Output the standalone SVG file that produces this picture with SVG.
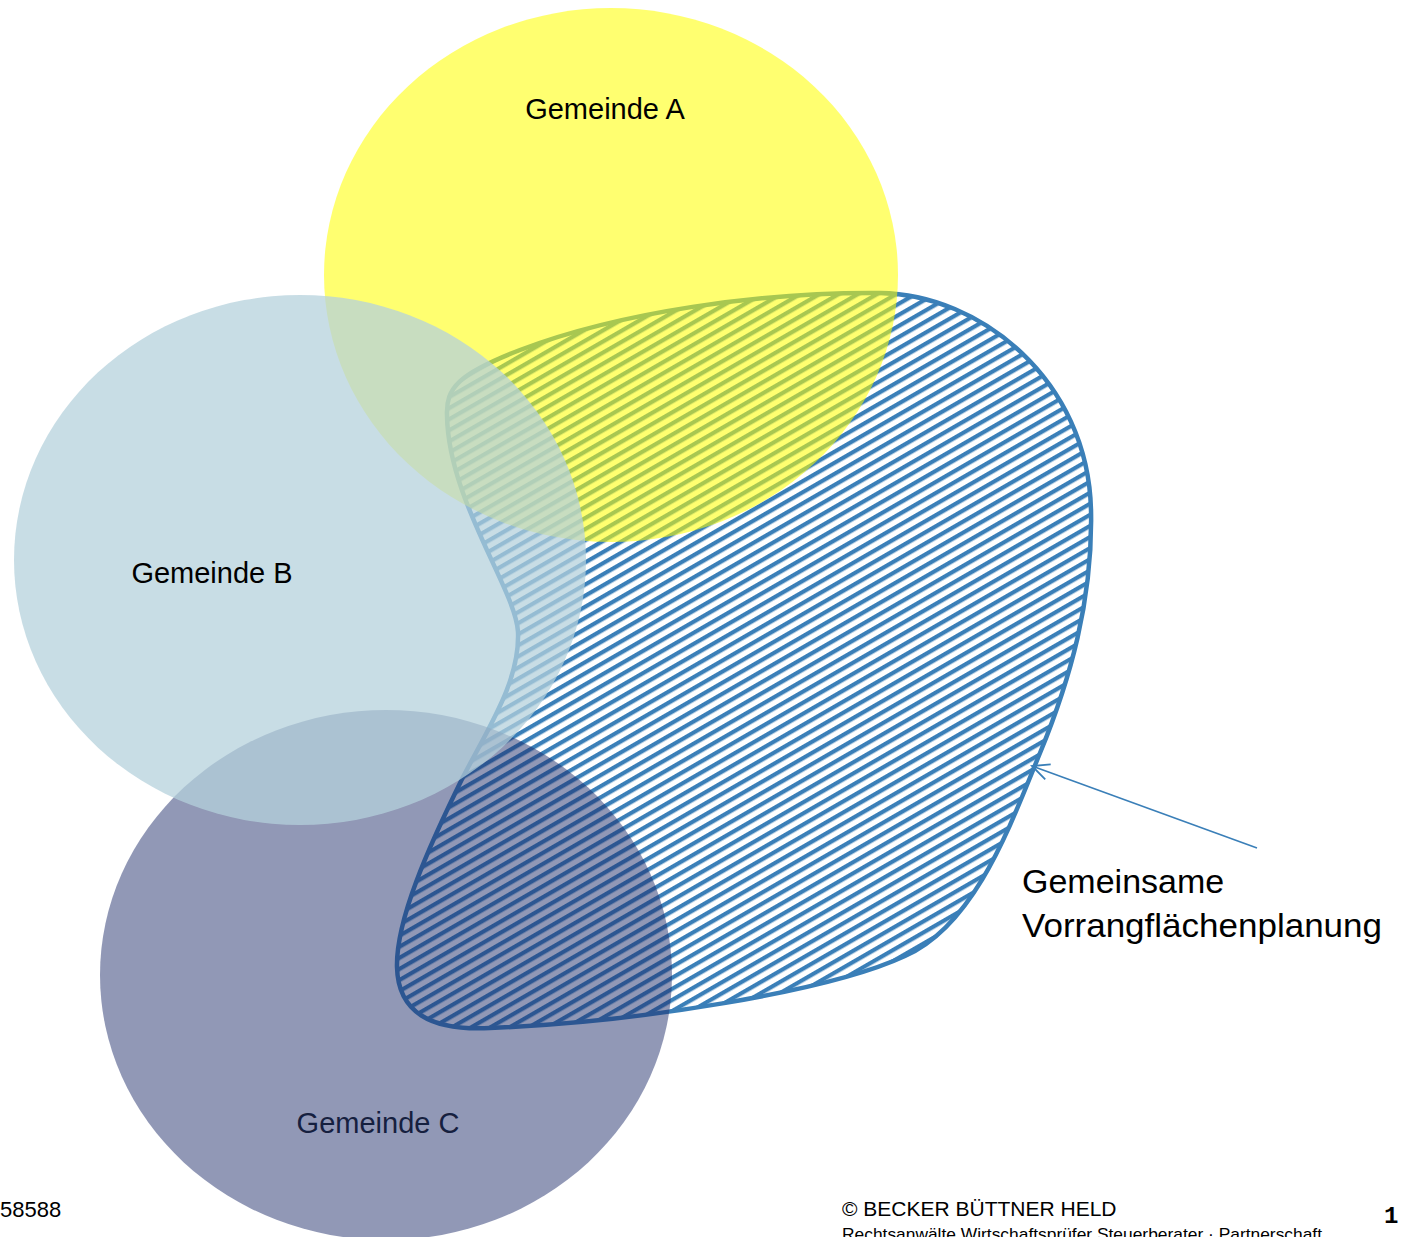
<svg xmlns="http://www.w3.org/2000/svg" width="1402" height="1237" viewBox="0 0 1402 1237">
  <style>
    .lbl { font-family: "Liberation Sans", Arial, sans-serif; font-size: 29px; fill: #000; }
    .note { font-family: "Liberation Sans", Arial, sans-serif; font-size: 34px; fill: #000; }
    .foot { font-family: "Liberation Sans", Arial, sans-serif; fill: #000; }
  </style>
  <defs>
    <pattern id="hatch" width="20" height="9.6" patternUnits="userSpaceOnUse" patternTransform="rotate(-30)">
      <rect x="0" y="0" width="20" height="4.2" fill="#3a7fb8"/>
    </pattern>
    <marker id="openArrow" markerUnits="userSpaceOnUse" markerWidth="22" markerHeight="22" viewBox="0 0 22 22" refX="20" refY="11" orient="auto">
      <path d="M3,3 L20,11 L3,19" fill="none" stroke="#3a7fb8" stroke-width="1.8"/>
    </marker>
  </defs>
  <rect width="1402" height="1237" fill="#ffffff"/>

  <g id="vorrangflaeche">
    <path d="M447,415 C446,388 458,374 520,350 C620,312 760,292 880,293 C980,294 1088,380 1091,510 C1093,600 1070,680 1040,753 C1010,826 975,925 905,956 C830,991 640,1022 490,1028 C430,1031 398,1012 397,967 C396,920 428,848 463,777 C490,725 520,680 518,632 C516,590 448,500 447,415 Z" fill="url(#hatch)" stroke="#3a7fb8" stroke-width="4.5" stroke-linejoin="round"/>
  </g>

  <g id="gemeinde-a">
    <ellipse cx="611" cy="275" rx="287" ry="267" fill="#ffff00" fill-opacity="0.56"/>
    <text class="lbl" x="605" y="119" text-anchor="middle">Gemeinde A</text>
  </g>

  <g id="gemeinde-c">
    <ellipse cx="386" cy="975" rx="286" ry="265" fill="#1f2d6a" fill-opacity="0.49"/>
    <text class="lbl" x="378" y="1133" text-anchor="middle" style="fill:#16203f">Gemeinde C</text>
  </g>

  <g id="gemeinde-b">
    <ellipse cx="300" cy="560" rx="286" ry="265" fill="#b5d1dc" fill-opacity="0.74"/>
    <text class="lbl" x="212" y="583" text-anchor="middle">Gemeinde B</text>
  </g>

  <g id="connectors">
    <line x1="1257" y1="848" x2="1032" y2="766" stroke="#3a7fb8" stroke-width="1.6" marker-end="url(#openArrow)"/>
  </g>

  <g id="label-vorrang">
    <text class="note" x="1022" y="893">Gemeinsame</text>
    <text class="note" x="1022" y="937" textLength="360" lengthAdjust="spacingAndGlyphs">Vorrangflächenplanung</text>
  </g>

  <g id="footer">
    <text class="foot" x="0" y="1217" font-size="22">58588</text>
    <text class="foot" x="842" y="1216" font-size="21">© BECKER BÜTTNER HELD</text>
    <text class="foot" x="842" y="1240" font-size="17" textLength="480" lengthAdjust="spacingAndGlyphs">Rechtsanwälte Wirtschaftsprüfer Steuerberater · Partnerschaft</text>
    <text x="1384" y="1223" font-family="'Liberation Mono', 'Courier New', monospace" font-size="24" font-weight="bold" fill="#000">1</text>
  </g>
</svg>
